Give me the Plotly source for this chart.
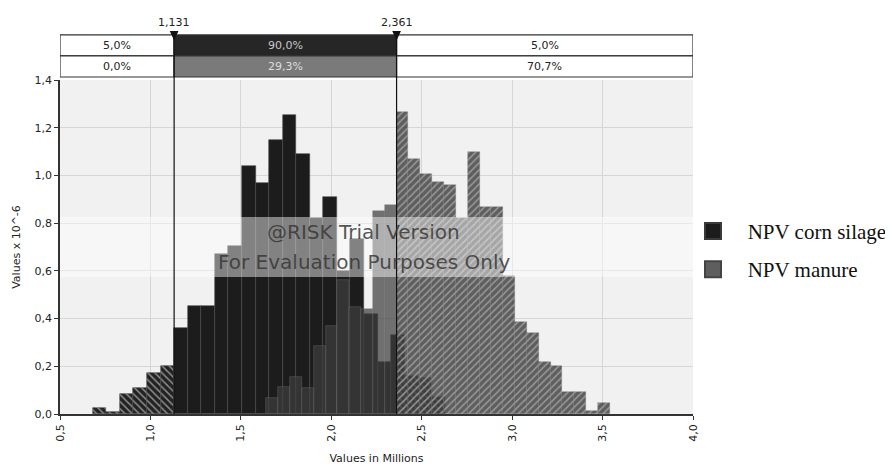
import plotly.graph_objects as go

# ---------------- data ----------------
corn_name = "NPV corn silage"
manure_name = "NPV manure"

corn_bin_start = 0.681
corn_bin_width = 0.075
corn_heights = [0.027, 0.010, 0.083, 0.108, 0.170, 0.200,
                0.362, 0.453, 0.453, 0.672, 0.704, 1.040, 0.968, 1.147,
                1.252, 1.090, 0.820, 0.908, 0.600, 0.733, 0.420, 0.220,
                0.333, 0.160, 0.150, 0.070]

manure_bin_start = 1.6405
manure_bin_width = 0.0655
manure_heights = [0.066, 0.115, 0.157, 0.110, 0.283, 0.370, 0.560, 0.450,
                  0.440, 0.852, 0.876,
                  1.266, 1.069, 1.004, 0.971, 0.958, 0.820, 1.099, 0.869,
                  0.869, 0.580, 0.384, 0.340, 0.220, 0.202, 0.094, 0.094,
                  0.014, 0.045]

delimiters = [1.131, 2.361]
delimiter_labels = ["1,131", "2,361"]
corn_pct = ["5,0%", "90,0%", "5,0%"]
manure_pct = ["0,0%", "29,3%", "70,7%"]

x_ticks = [0.5, 1.0, 1.5, 2.0, 2.5, 3.0, 3.5, 4.0]
y_ticks = [0.0, 0.2, 0.4, 0.6, 0.8, 1.0, 1.2, 1.4]
x_title = "Values in Millions"
y_title = "Values x 10^-6"
watermark = ["@RISK Trial Version", "For Evaluation Purposes Only"]

# ---------------- helpers ----------------
lo, hi = delimiters


def split_bins(start, width, heights):
    inside = ([], [], [])
    outside = ([], [], [])
    for i, h in enumerate(heights):
        a = start + i * width
        b = a + width
        cuts = [a] + [c for c in (lo, hi) if a < c < b] + [b]
        for s, e in zip(cuts[:-1], cuts[1:]):
            mid = (s + e) / 2
            tgt = inside if lo <= mid <= hi else outside
            tgt[0].append(mid)
            tgt[1].append(h)
            tgt[2].append(e - s)
    return inside, outside


corn_in, corn_out = split_bins(corn_bin_start, corn_bin_width, corn_heights)
man_in, man_out = split_bins(manure_bin_start, manure_bin_width, manure_heights)

CORN = "#1c1c1c"
MAN = "rgba(62,62,62,0.72)"

fig = go.Figure()
fig.add_trace(go.Bar(x=corn_out[0], y=corn_out[1], width=corn_out[2],
                     marker=dict(color=CORN, line=dict(width=0.6, color="#4a4a4a"),
                                 pattern=dict(shape="\\", fillmode="replace",
                                              bgcolor="#222222", fgcolor="#8c8c8c",
                                              size=5, solidity=0.3)),
                     showlegend=False, hoverinfo="skip"))
fig.add_trace(go.Bar(x=corn_in[0], y=corn_in[1], width=corn_in[2],
                     marker=dict(color=CORN, line=dict(width=0.6, color="#4a4a4a")),
                     showlegend=False, hoverinfo="skip"))
fig.add_trace(go.Bar(x=man_in[0], y=man_in[1], width=man_in[2],
                     marker=dict(color=MAN, line=dict(width=0.6, color="rgba(120,120,120,0.6)")),
                     showlegend=False, hoverinfo="skip"))
fig.add_trace(go.Bar(x=man_out[0], y=man_out[1], width=man_out[2],
                     marker=dict(color=MAN, line=dict(width=0.6, color="rgba(120,120,120,0.6)"),
                                 pattern=dict(shape="/", fillmode="replace",
                                              bgcolor="rgba(66,66,66,0.84)",
                                              fgcolor="rgba(160,160,160,0.9)",
                                              size=5, solidity=0.3)),
                     showlegend=False, hoverinfo="skip"))

# legend proxies (leading en/thin space reproduces the wider symbol-to-text gap)
fig.add_trace(go.Scatter(x=[None], y=[None], mode="markers", name="\u2002\u2009" + corn_name,
                         legendgroup="a",
                         marker=dict(symbol="square", size=20, color=CORN,
                                     line=dict(width=2, color="#3a3a3a"))))
fig.add_trace(go.Scatter(x=[None], y=[None], mode="markers", name="\u2002\u2009" + manure_name,
                         legendgroup="b",
                         marker=dict(symbol="square", size=20, color="#5e5e5e",
                                     line=dict(width=2, color="#444"))))

shapes = []
annotations = []

# watermark band
shapes.append(dict(type="rect", xref="paper", yref="y", x0=0, x1=1, y0=0.574, y1=0.826,
                   fillcolor="rgba(255,255,255,0.45)", line=dict(width=0), layer="above"))
annotations.append(dict(x=2.178, y=0.763, xref="x", yref="y", text=watermark[0], showarrow=False,
                        xanchor="center", yanchor="middle",
                        font=dict(family="DejaVu Sans", size=20, color="rgba(55,55,55,0.85)")))
annotations.append(dict(x=2.186, y=0.637, xref="x", yref="y", text=watermark[1], showarrow=False,
                        xanchor="center", yanchor="middle",
                        font=dict(family="DejaVu Sans", size=20, color="rgba(55,55,55,0.85)")))

# percentage boxes
row_y = [(1.072, 1.135), (1.009, 1.072)]
edges = [0.5, lo, hi, 4.0]
fills = [["white", "#262626", "white"], ["white", "#7a7a7a", "white"]]
txtcol = [["#222", "#c8c8c8", "#222"], ["#222", "#dddddd", "#222"]]
for r, pcts in enumerate([corn_pct, manure_pct]):
    y0, y1 = row_y[r]
    for k in range(3):
        shapes.append(dict(type="rect", xref="x", yref="paper", x0=edges[k], x1=edges[k + 1],
                           y0=y0, y1=y1, fillcolor=fills[r][k],
                           line=dict(width=1.2, color="#333")))
        annotations.append(dict(x=(edges[k] + edges[k + 1]) / 2, y=(y0 + y1) / 2,
                                xref="x", yref="paper", text=pcts[k], showarrow=False,
                                xanchor="center", yanchor="middle",
                                font=dict(family="DejaVu Sans", size=11, color=txtcol[r][k])))

# delimiter lines, triangles and labels
for d, lab in zip(delimiters, delimiter_labels):
    shapes.append(dict(type="line", xref="x", yref="paper", x0=d, x1=d, y0=0, y1=1.135,
                       line=dict(width=1.2, color="#111"), layer="above"))
    tw = 0.024
    shapes.append(dict(type="path", xref="x", yref="paper",
                       path=f"M {d - tw},1.147 L {d + tw},1.147 L {d},1.118 Z",
                       fillcolor="#111", line=dict(width=0)))
    annotations.append(dict(x=d, y=1.148, xref="x", yref="paper", text=lab, showarrow=False,
                            xanchor="center", yanchor="bottom",
                            font=dict(family="DejaVu Sans", size=11, color="#222")))

# page body has an 8px default margin: size the figure so the plot lands where it should
fig.update_layout(
    width=885, height=460,
    margin=dict(l=52, r=200, t=72, b=54, autoexpand=False),
    paper_bgcolor="white",
    plot_bgcolor="#f1f1f1",
    barmode="overlay",
    bargap=0,
    separators=",.",
    shapes=shapes,
    annotations=annotations,
    font=dict(family="DejaVu Sans", size=11, color="#222"),
    legend=dict(x=1.0, y=0.49, xanchor="left", yanchor="middle",
                font=dict(family="Liberation Serif", size=21, color="#111"),
                bgcolor="rgba(0,0,0,0)", itemsizing="trace", tracegroupgap=8),
    xaxis=dict(range=[0.5, 4.0], tickvals=x_ticks, tickformat=".1f", tickangle=-90,
               showline=True, linecolor="#333", linewidth=1.5, ticks="outside", ticklen=4,
               tickcolor="#333", showgrid=True, gridcolor="#d6d6d6", gridwidth=1, zeroline=False,
               title=dict(text=x_title, standoff=14, font=dict(size=11)),
               tickfont=dict(size=11), automargin=False),
    yaxis=dict(range=[0, 1.4], tickvals=y_ticks, tickformat=".1f",
               showline=True, linecolor="#333", linewidth=1.5, ticks="outside", ticklen=4,
               tickcolor="#333", showgrid=True, gridcolor="#d6d6d6", gridwidth=1, zeroline=False,
               title=dict(text=y_title, standoff=12, font=dict(size=11)),
               tickfont=dict(size=11), automargin=False),
)

fig.write_html("out.html")
